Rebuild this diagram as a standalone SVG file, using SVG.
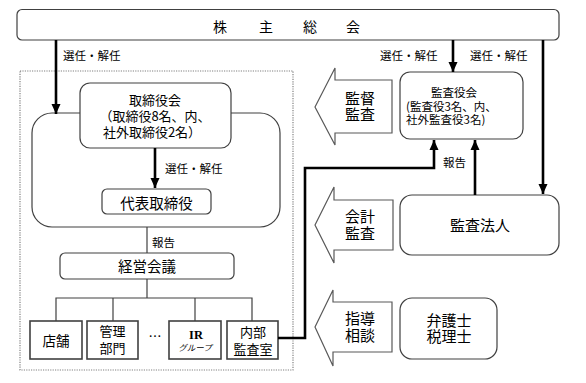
<svg xmlns="http://www.w3.org/2000/svg" width="586" height="383" viewBox="0 0 586 383">
<defs>
<marker id="ah" markerUnits="userSpaceOnUse" markerWidth="10" markerHeight="10" viewBox="0 0 10 10" refX="10" refY="5" orient="auto">
<path d="M0,0.5 L10,5 L0,9.5 Z" fill="#000"/>
</marker>
<style>
text{font-family:"Noto Sans CJK JP","Noto Sans",sans-serif;fill:#000;}
.box{fill:#fff;stroke:#404040;stroke-width:1.2;}
.sq{fill:#fff;stroke:#404040;stroke-width:1.6;}
.blk{fill:#fff;stroke:#595959;stroke-width:1.2;}
.thick{fill:none;stroke:#000;stroke-width:2.6;}
.thin{fill:none;stroke:#404040;stroke-width:1.2;}
.lbl{font-size:11.5px;}
.c{text-anchor:middle;}
</style>
</defs>
<rect x="0" y="0" width="586" height="383" fill="#fff"/>

<g id="frame">
<rect x="20" y="71" width="273" height="299" fill="none" stroke="#808080" stroke-width="1.2" stroke-dasharray="1.2,1.2"/>
</g>

<g id="shareholders">
<rect class="box" x="17" y="9.5" width="542" height="30.5" rx="5"/>
<text x="220" y="32" font-size="14" class="c">株</text>
<text x="266" y="32" font-size="14" class="c">主</text>
<text x="310" y="32" font-size="14" class="c">総</text>
<text x="353" y="32" font-size="14" class="c">会</text>
</g>

<g id="board-outer">
<rect class="box" x="32" y="113" width="248" height="114" rx="20"/>
</g>

<g id="board">
<rect class="box" x="80" y="83" width="151" height="65" rx="10"/>
<text x="155" y="105" font-size="13" class="c">取締役会</text>
<text x="155" y="121" font-size="13" class="c">（取締役8名、内、</text>
<text x="152" y="137" font-size="13" class="c">社外取締役2名）</text>
</g>

<g id="representative">
<rect class="box" x="102" y="189" width="109" height="25" rx="5"/>
<text x="156.5" y="209" font-size="14.5" class="c">代表取締役</text>
</g>

<g id="management-meeting">
<rect class="box" x="60" y="253" width="174" height="26" rx="5"/>
<text x="147" y="272" font-size="14.5" class="c">経営会議</text>
</g>

<g id="store">
<rect class="sq" x="30" y="321" width="52" height="38"/>
<text x="56" y="346" font-size="13.5" class="c">店舗</text>
</g>
<g id="admin">
<rect class="sq" x="87" y="321" width="51" height="38"/>
<text x="112.5" y="336" font-size="13" class="c">管理</text>
<text x="112.5" y="353" font-size="13" class="c">部門</text>
</g>
<g id="dots">
<text x="155" y="341" font-size="13" class="c">…</text>
</g>
<g id="ir">
<rect class="sq" x="169" y="321" width="52" height="38"/>
<text x="196" y="338.5" font-size="12.5" class="c" font-weight="bold" style="font-family:'Liberation Serif',serif">IR</text>
<text x="195" y="351" font-size="8.5" class="c" font-style="italic">グループ</text>
</g>
<g id="internal-audit">
<rect class="sq" x="227" y="321" width="51" height="38"/>
<text x="253" y="337" font-size="13" class="c">内部</text>
<text x="253" y="354" font-size="13" class="c">監査室</text>
</g>

<g id="auditors-board">
<rect class="box" x="400" y="72" width="123" height="67" rx="10"/>
<text x="454" y="97" font-size="11.5" class="c">監査役会</text>
<text x="406" y="111" font-size="11.5">(監査役3名、内、</text>
<text x="406" y="124" font-size="11.5">社外監査役3名)</text>
</g>

<g id="audit-firm">
<rect class="box" x="400" y="195" width="159" height="60" rx="12"/>
<text x="480" y="231" font-size="15" class="c">監査法人</text>
</g>

<g id="lawyers">
<rect class="box" x="400" y="298" width="97" height="61" rx="12"/>
<text x="449" y="326" font-size="15" class="c">弁護士</text>
<text x="449" y="341.5" font-size="15" class="c">税理士</text>
</g>

<g id="arrow-supervise">
<polygon class="blk" points="315,107 335,68 335,80 392,80 392,133 335,133 335,145"/>
<text x="360" y="104" font-size="15" class="c">監督</text>
<text x="360" y="120" font-size="15" class="c">監査</text>
</g>
<g id="arrow-accounting">
<polygon class="blk" points="315,225 334,187 334,200 393,200 393,250 334,250 334,263"/>
<text x="360" y="222" font-size="15" class="c">会計</text>
<text x="360" y="239" font-size="15" class="c">監査</text>
</g>
<g id="arrow-advice">
<polygon class="blk" points="315,327 333,290 333,302 392,302 392,352 333,352 333,366"/>
<text x="360" y="324" font-size="15" class="c">指導</text>
<text x="360" y="341" font-size="15" class="c">相談</text>
</g>

<g id="connectors">
<line class="thick" x1="56" y1="40" x2="56" y2="114" marker-end="url(#ah)"/>
<line class="thick" x1="155" y1="148" x2="155" y2="188" marker-end="url(#ah)"/>
<line class="thin" x1="147" y1="227" x2="147" y2="253"/>
<line class="thin" x1="147" y1="279" x2="147" y2="298"/>
<polyline class="thin" points="56,321 56,298 252,298 252,321"/>
<line class="thin" x1="113" y1="298" x2="113" y2="321"/>
<line class="thin" x1="195" y1="298" x2="195" y2="321"/>
<path class="thick" d="M278,338 H305 V168 H434 V140" marker-end="url(#ah)"/>
<line class="thick" x1="453" y1="40" x2="453" y2="72" marker-end="url(#ah)"/>
<line class="thick" x1="543" y1="40" x2="543" y2="194" marker-end="url(#ah)"/>
<line class="thick" x1="475" y1="195" x2="475" y2="140" marker-end="url(#ah)"/>
<text x="63" y="60" class="lbl">選任・解任</text>
<text x="165" y="173" class="lbl">選任・解任</text>
<text x="152" y="247" class="lbl">報告</text>
<text x="380" y="60" class="lbl">選任・解任</text>
<text x="470" y="60" class="lbl">選任・解任</text>
<text x="443" y="167" class="lbl">報告</text>
</g>
</svg>
